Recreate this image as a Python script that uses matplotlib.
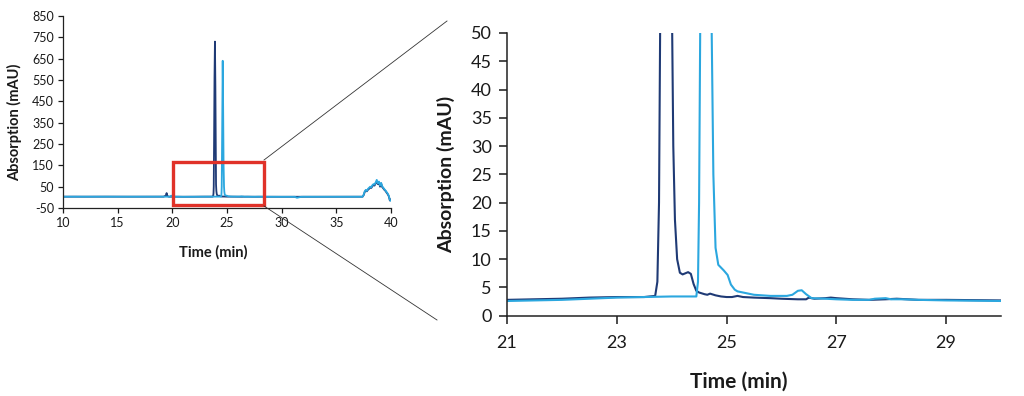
import matplotlib
matplotlib.use("Agg")
import matplotlib.pyplot as plt
from matplotlib.patches import Rectangle
from matplotlib.lines import Line2D

plt.rcParams['font.family'] = ['Lato', 'DejaVu Sans']
plt.rcParams['axes.unicode_minus'] = False

# ---- data: two chromatograms (time in min, absorption in mAU) ----
dark_t = [10, 11, 12, 14, 16, 18, 19.2, 19.4, 19.48, 19.55, 19.7, 20.5, 21, 21.5, 22, 22.5, 23, 23.5,
          23.7, 23.74, 23.77, 23.79, 23.82, 23.86, 23.9, 23.94, 23.98, 24.0, 24.03, 24.06, 24.1,
          24.15, 24.2, 24.25, 24.3, 24.35, 24.4, 24.45, 24.5, 24.6, 24.65, 24.7, 24.8, 24.9,
          25.0, 25.1, 25.2, 25.3, 25.5, 25.8, 26.0, 26.3, 26.45, 26.5, 26.6, 26.8, 26.9, 27.0,
          27.3, 27.6, 27.9, 28.1, 28.5, 29, 30, 32, 35, 37.4, 37.5, 37.6, 37.7, 37.8, 37.9, 38.0,
          38.1, 38.2, 38.3, 38.4, 38.5, 38.6, 38.7, 38.8, 38.9, 39.0, 39.1, 39.2, 39.3, 39.4,
          39.5, 39.6, 39.7, 39.8, 39.9, 40]
dark_y = [3.0, 3.2, 3.1, 3.3, 3.1, 3.2, 3.3, 8, 20, 6, 3.2, 3.0, 2.8, 2.9, 3.0, 3.2, 3.3, 3.3,
          3.5, 6, 20, 50, 250, 560, 730, 520, 200, 60, 30, 17, 10, 7.6, 7.3, 7.5, 7.7, 7.4, 5.6,
          4.4, 4.1, 3.8, 3.7, 3.9, 3.6, 3.4, 3.3, 3.3, 3.5, 3.3, 3.2, 3.1, 3.0, 2.9, 2.9, 3.2,
          3.0, 3.1, 3.2, 3.1, 2.9, 2.8, 2.9, 3.0, 2.8, 2.8, 2.7, 2.8, 2.9, 3.0, 10, 25, 33, 28,
          36, 40, 46, 44, 52, 58, 55, 66, 72, 62, 70, 50, 65, 48, 42, 35, 30, 22, 15, 5, -15, -10]

light_t = [10, 12, 14, 16, 18, 19.8, 19.9, 20.0, 20.5, 21, 21.5, 22, 22.5, 23, 23.5, 24, 24.3,
           24.45, 24.48, 24.5, 24.52, 24.56, 24.61, 24.65, 24.69, 24.73, 24.76, 24.8, 24.85,
           24.95, 25.02, 25.08, 25.15, 25.2, 25.35, 25.5, 25.8, 26.1, 26.2, 26.3, 26.37, 26.45,
           26.55, 26.8, 27.0, 27.3, 27.6, 27.7, 27.9, 28.0, 28.2, 28.5, 29, 30, 31.2, 31.4,
           31.8, 32, 35, 37.4, 37.5, 37.6, 37.7, 37.8, 37.9, 38.0, 38.1, 38.2, 38.3, 38.4, 38.5,
           38.6, 38.7, 38.8, 38.9, 39.0, 39.1, 39.2, 39.3, 39.4, 39.5, 39.6, 39.7, 39.8, 39.9, 40]
light_y = [3.2, 3.1, 3.2, 3.1, 3.2, 3.2, 8, 3.2, 3.0, 2.6, 2.7, 2.8, 3.0, 3.2, 3.3, 3.4, 3.4,
           3.4, 6, 20, 50, 300, 640, 420, 150, 50, 25, 12, 9.0, 8.0, 7.2, 5.5, 4.6, 4.3, 4.0,
           3.7, 3.5, 3.5, 3.7, 4.4, 4.5, 3.8, 3.1, 3.0, 2.9, 2.8, 2.8, 3.0, 3.1, 2.9, 2.9, 2.8,
           2.7, 2.6, 2.6, -2, 2.6, 2.7, 2.8, 2.9, 12, 28, 35, 30, 40, 45, 50, 47, 57, 62, 60, 70,
           82, 66, 74, 55, 68, 52, 45, 38, 32, 25, 18, 8, -12, -16]

full_xticks = [10, 15, 20, 25, 30, 35, 40]
full_yticks = [-50, 50, 150, 250, 350, 450, 550, 650, 750, 850]
zoom_xticks = [21, 23, 25, 27, 29]
zoom_yticks = [0, 5, 10, 15, 20, 25, 30, 35, 40, 45, 50]
zoom_box = (20.1, 28.4, -36, 167)  # x0, x1, y0, y1 in left-axis data units

DARK = '#1f3a75'
LIGHT = '#2ba7df'
TXT = '#1a1a1a'

fig = plt.figure(figsize=(10.24, 3.96), dpi=100)

# ---- left: full chromatogram ----
ax1 = fig.add_axes([0.0615, 0.4747, 0.3203, 0.4849])
ax1.plot(dark_t, dark_y, color=DARK, lw=1.3)
ax1.plot(light_t, light_y, color=LIGHT, lw=1.3)
ax1.set_xlim(10, 40)
ax1.set_ylim(-50, 850)
ax1.set_xticks(full_xticks)
ax1.set_yticks(full_yticks)
for s in ['top', 'right']:
    ax1.spines[s].set_visible(False)
for s in ['left', 'bottom']:
    ax1.spines[s].set_color('#222222')
    ax1.spines[s].set_linewidth(0.9)
ax1.tick_params(direction='out', length=3.5, width=0.9, labelsize=9, colors=TXT, pad=3)
ax1.set_xlabel('Time (min)', fontsize=10.5, fontweight='bold', color=TXT)
ax1.set_ylabel('Absorption (mAU)', fontsize=10.5, fontweight='bold', color=TXT)
ax1.xaxis.set_label_coords(0.459, -0.195)
ax1.yaxis.set_label_coords(-0.125, 0.445)

x0, x1, y0, y1 = zoom_box
ax1.add_patch(Rectangle((x0, y0), x1 - x0, y1 - y0, fill=False, edgecolor='#e03229',
                        lw=2.4, zorder=5, clip_on=False))

# ---- right: zoomed chromatogram ----
ax2 = fig.add_axes([0.4951, 0.2028, 0.4824, 0.7139])
ax2.plot(dark_t, dark_y, color=DARK, lw=1.5)
ax2.plot(light_t, light_y, color=LIGHT, lw=1.5)
ax2.set_xlim(21, 30)
ax2.set_ylim(0, 50)
ax2.set_xticks(zoom_xticks)
ax2.set_yticks(zoom_yticks)
for s in ['top', 'right']:
    ax2.spines[s].set_visible(False)
for s in ['left', 'bottom']:
    ax2.spines[s].set_color('#222222')
    ax2.spines[s].set_linewidth(1.1)
ax2.tick_params(axis='y', direction='out', length=6, width=1.1, labelsize=13, colors=TXT, pad=5)
ax2.tick_params(axis='x', direction='out', length=6, width=1.1, labelsize=13, colors=TXT, pad=8)
ax2.set_xlabel('Time (min)', fontsize=15, fontweight='bold', color=TXT)
ax2.set_ylabel('Absorption (mAU)', fontsize=14, fontweight='bold', color=TXT)
ax2.xaxis.set_label_coords(0.47, -0.198)
ax2.yaxis.set_label_coords(-0.105, 0.5)

# ---- connector lines (figure pixel coords) ----
def px(x, y):
    return x / 1024, 1 - y / 396

for (xa, ya), (xb, yb) in [((264, 160), (447, 21)), ((264, 206), (437, 320))]:
    (fx0, fy0), (fx1, fy1) = px(xa, ya), px(xb, yb)
    fig.add_artist(Line2D([fx0, fx1], [fy0, fy1], color='#333333', lw=0.6,
                          transform=fig.transFigure))

fig.savefig('out.png', dpi=100)
